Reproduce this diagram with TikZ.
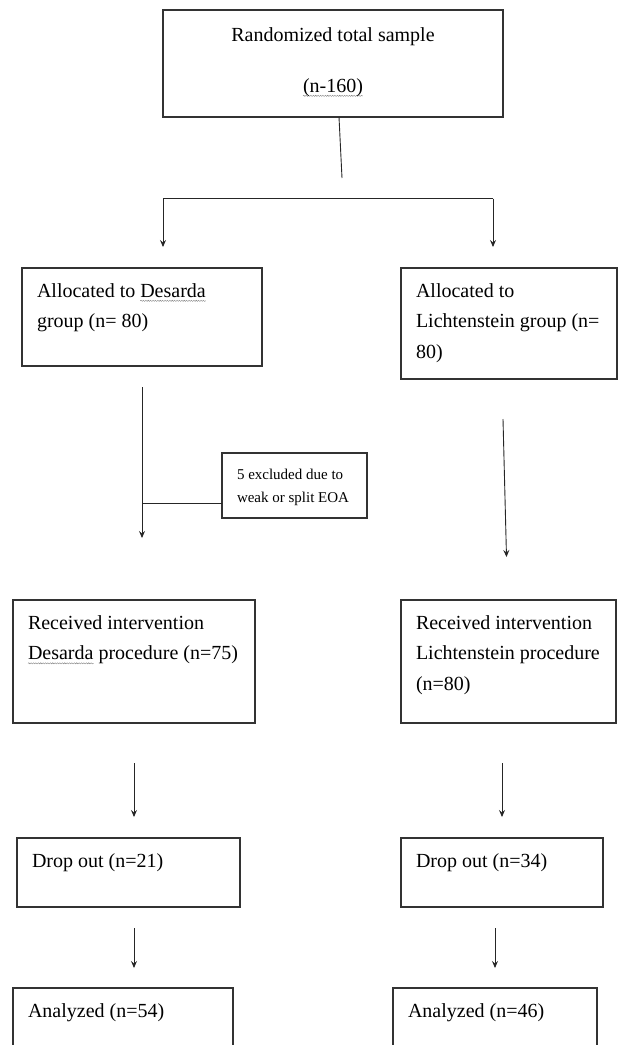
\documentclass[tikz,border=0pt]{standalone}
\usepackage{fontspec}
\setmainfont{Liberation Serif}
\usetikzlibrary{arrows.meta,decorations.pathmorphing}
\newsavebox{\wavebox}
\newlength{\wavewd}
\newcommand{\wavy}[1]{\leavevmode\sbox{\wavebox}{#1}\setlength{\wavewd}{\wd\wavebox}\rlap{\tikz[overlay]\draw[gray,line width=0.4pt,decorate,decoration={snake,amplitude=0.6pt,segment length=2.4pt}] (0pt,-3.5pt) -- (\wavewd,-3.5pt);}\usebox{\wavebox}}
\newcommand{\boxtext}[3]{\parbox[t][#2][t]{#1}{\raggedright\strut#3}}
\begin{document}
\begin{tikzpicture}[x=1pt,y=-1pt,
  box/.style={draw=black!80,line width=1.3pt,anchor=north west,outer sep=0pt,inner xsep=15pt,inner ysep=8pt,font=\fontsize{20}{30.5}\selectfont},
  line/.style={draw=black!85,line width=0.9pt},
  arr/.style={line,-{Stealth[length=7pt,width=6pt,inset=2.5pt]}}]
\useasboundingbox (0,0) rectangle (619,1045);
\clip (0,0) rectangle (619,1045);
\node[box,inner ysep=10pt] (rand) at (163,10) {\parbox[t][87pt][t]{310pt}{\centering\strut Randomized total sample\\[20.5pt]\wavy{(n-160)}}};
\node[box] (alloc1) at (22,268) {\boxtext{210pt}{82pt}{Allocated to \wavy{Desarda}\\group (n= 80)}};
\node[box] (alloc2) at (401,268) {\boxtext{186pt}{95pt}{Allocated to\\Lichtenstein group (n=\\80)}};
\node[box,inner ysep=10.4pt,font=\fontsize{15}{23}\selectfont] (excl) at (222,453) {\boxtext{115pt}{44.2pt}{5 excluded due to\\weak or split EOA}};
\node[box] (recv1) at (13,600) {\boxtext{212pt}{107pt}{Received intervention\\\wavy{Desarda} procedure (n=75)}};
\node[box] (recv2) at (401,600) {\boxtext{185pt}{107pt}{Received intervention\\Lichtenstein procedure\\(n=80)}};
\node[box] (drop1) at (17,838) {\boxtext{193pt}{53pt}{Drop out (n=21)}};
\node[box] (drop2) at (401,838) {\boxtext{172pt}{53pt}{Drop out (n=34)}};
\node[box] (anal1) at (13,988) {\boxtext{190pt}{84pt}{Analyzed (n=54)}};
\node[box] (anal2) at (393,988) {\boxtext{174pt}{84pt}{Analyzed (n=46)}};
\coordinate (stem) at (342,178);
\coordinate (forkL) at (163,198.5);
\coordinate (forkR) at (493,198.5);
\coordinate (exin) at ([yshift=-17.5pt]excl.west);
\draw[line] ([xshift=6pt]rand.south) -- (stem);
\draw[arr,shorten >=21pt] (forkR) -| (forkL |- alloc1.north);
\draw[arr,shorten >=21pt] (forkR) -- (forkR |- alloc2.north);
\draw[arr,shorten <=21pt,shorten >=62pt] (alloc1.south) -- (alloc1.south |- recv1.north);
\draw[line] (exin) -- (exin -| alloc1.south);
\draw[arr] ([xshift=-6pt,yshift=-40pt]alloc2.south) -- ([xshift=-2pt,yshift=43pt]recv2.north);
\draw[arr,shorten <=40pt,shorten >=21pt] (recv1.south) -- (recv1.south |- drop1.north);
\draw[arr,shorten <=40pt,shorten >=21pt] (recv2.south -| drop2.north) -- (drop2.north);
\draw[arr,shorten <=21pt,shorten >=20pt] (drop1.south -| recv1.south) -- (recv1.south |- anal1.north);
\draw[arr,shorten <=21pt,shorten >=20pt] (drop2.south -| anal2.north) -- (anal2.north);
\end{tikzpicture}
\end{document}
